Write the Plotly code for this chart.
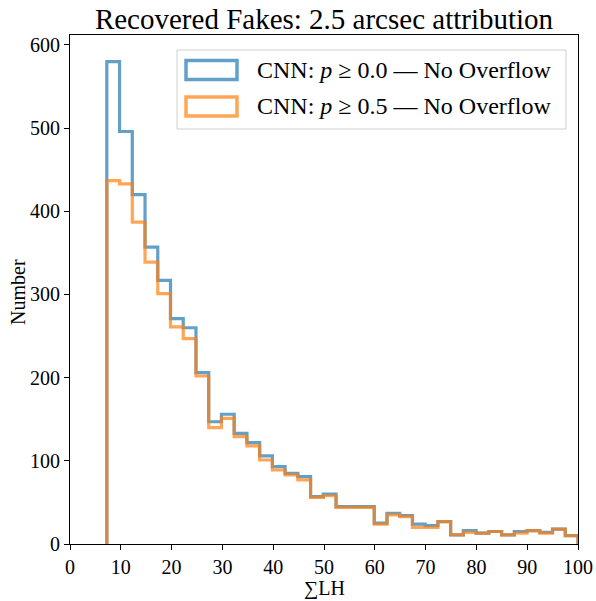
import numpy as np
import plotly.graph_objects as go

# Histogram bins (sum LH), 37 bins from ~7.25 to 100
bin_start = 7.25
bin_stop = 100.0
n_bins = 37

counts_p00 = [580, 496, 420, 357, 317, 271, 260, 206, 147, 156,
              133, 122, 106, 93, 85, 81, 57, 60, 45, 45,
              45, 25, 37, 34, 24, 22, 27, 11, 16, 13,
              15, 11, 15, 16, 14, 18, 10]
counts_p05 = [437, 433, 387, 339, 301, 261, 247, 202, 140, 151,
              129, 118, 101, 89, 83, 77, 56, 58, 44, 44,
              44, 24, 35, 33, 20, 20, 27, 11, 14, 13,
              15, 11, 13, 16, 13, 18, 10]

labels = ["CNN: <i>p</i> ≥ 0.0 — No Overflow", "CNN: <i>p</i> ≥ 0.5 — No Overflow"]
colors = ["rgba(31,119,180,0.7)", "rgba(255,127,14,0.7)"]

x_ticks = list(range(0, 101, 10))
y_ticks = list(range(0, 601, 100))

edges = np.linspace(bin_start, bin_stop, n_bins + 1)


def step_xy(counts):
    c = np.asarray(counts, dtype=float)
    xs = np.repeat(edges, 2)
    ys = np.concatenate([[0.0], np.repeat(c, 2), [0.0]])
    return xs, ys


FONT = "Liberation Serif"
fig = go.Figure()
for counts, col, lab in zip([counts_p00, counts_p05], colors, labels):
    xs, ys = step_xy(counts)
    fig.add_trace(go.Scatter(x=xs, y=ys, mode="lines", name=lab,
                             line=dict(color=col, width=3.2),
                             showlegend=False, hoverinfo="skip"))

# plot area in pixels
L, R, T, B = 70, 578, 35, 544
W, H = 596, 601


def px(x):
    return (x - L) / (R - L)


def py(y):
    return (B - y) / (B - T)


shapes = []
annotations = []
# legend frame
shapes.append(dict(type="rect", xref="paper", yref="paper",
                   x0=px(177), x1=px(566), y0=py(129), y1=py(50),
                   line=dict(color="#d0d0d0", width=1), fillcolor="rgba(255,255,255,0.8)"))
for i, (col, lab) in enumerate(zip(colors, labels)):
    yc = 70 + i * 36.5
    shapes.append(dict(type="rect", xref="paper", yref="paper",
                       x0=px(186), x1=px(237), y0=py(yc + 9.5), y1=py(yc - 9.5),
                       line=dict(color=col, width=3.5), fillcolor="rgba(0,0,0,0)"))
    annotations.append(dict(xref="paper", yref="paper", x=px(255), y=py(yc),
                            xanchor="left", yanchor="middle", showarrow=False,
                            text=lab, font=dict(family=FONT, size=24, color="black")))

# axis titles
annotations.append(dict(xref="paper", yref="paper", x=px(324), y=py(588),
                        xanchor="center", yanchor="middle", showarrow=False,
                        text="∑LH", font=dict(family=FONT, size=20, color="black")))
annotations.append(dict(xref="paper", yref="paper", x=px(18), y=py(292),
                        xanchor="center", yanchor="middle", showarrow=False, textangle=-90,
                        text="Number", font=dict(family=FONT, size=20, color="black")))

fig.update_layout(
    width=W, height=H,
    margin=dict(l=L, r=W - R, t=T, b=H - B, autoexpand=False),
    paper_bgcolor="white", plot_bgcolor="white",
    title=dict(text="Recovered Fakes: 2.5 arcsec attribution", x=(L + R) / 2 / W,
               xanchor="center", y=1 - 19 / H, yanchor="middle",
               font=dict(family=FONT, size=29, color="black")),
    shapes=shapes, annotations=annotations,
    font=dict(family=FONT, size=20, color="black"),
)
fig.update_xaxes(range=[0, 100], tickvals=x_ticks, ticks="outside", ticklen=5,
                 tickwidth=1, tickcolor="black", showline=True, linecolor="black",
                 linewidth=1, mirror=True, showgrid=False, zeroline=False, automargin=False,
                 tickfont=dict(family=FONT, size=20))
fig.update_yaxes(range=[0, 612], tickvals=y_ticks, ticks="outside", ticklen=5,
                 tickwidth=1, tickcolor="black", showline=True, linecolor="black",
                 linewidth=1, mirror=True, showgrid=False, zeroline=False, automargin=False,
                 tickfont=dict(family=FONT, size=20))

fig.write_html("out.html")
